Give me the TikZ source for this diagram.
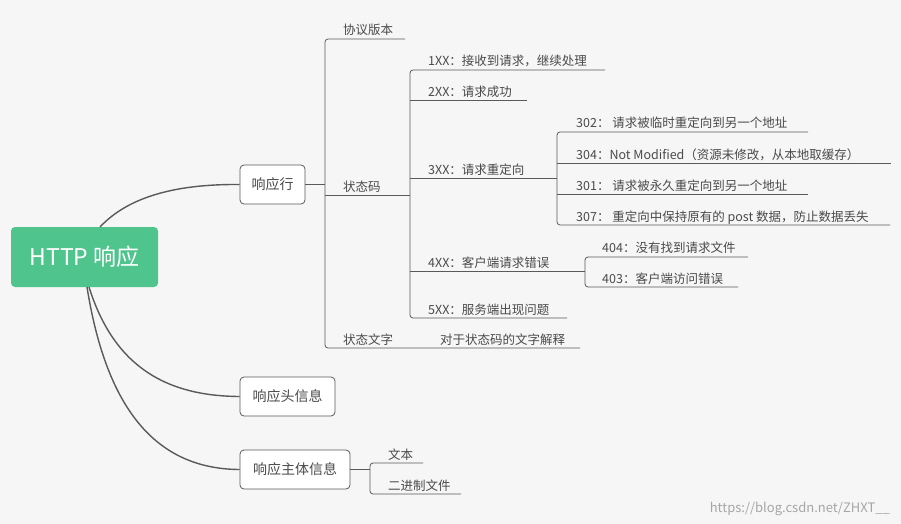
\documentclass[tikz,border=0pt]{standalone}
\usepackage{fontspec}
\setmainfont{Noto Sans CJK SC}
\definecolor{bg}{HTML}{F6F6F6}
\definecolor{grn}{HTML}{4FC48C}
\definecolor{ln}{HTML}{5A5A5A}
\definecolor{tx}{HTML}{4A4A4A}
\begin{document}
\begin{tikzpicture}[x=1pt,y=-1pt,
  lbl/.style={anchor=base west,inner sep=0pt,text=tx,font=\fontsize{12.5}{14}\selectfont},
  box/.style={draw=ln,line width=0.8pt,rounded corners=4pt,fill=white,text=tx,font=\fontsize{14}{16}\selectfont,inner sep=0pt,minimum height=39pt},
  br/.style={draw=ln,line width=0.8pt},
  cv/.style={draw=ln,line width=1.4pt}]
\fill[bg] (0,0) rectangle (901,524);
\useasboundingbox (0,0) rectangle (901,524);
% root
\node[fill=grn,rounded corners=4pt,minimum width=147pt,minimum height=60pt,inner sep=0pt,text=white,font=\fontsize{23}{26}\selectfont] (root) at (84.5,257) {HTTP 响应};
\node[box,minimum width=65pt] (line) at (272.5,184.5) {响应行};
\node[box,minimum width=95pt] (head) at (287.5,396.5) {响应头信息};
\node[box,minimum width=110pt] (body) at (295,469.5) {响应主体信息};
\draw[cv] (100,227) .. controls (130,195) and (180,184) .. (line.west);
\draw[cv] (89,287) .. controls (115,370) and (170,396) .. (head.west);
\draw[cv] (87,287) .. controls (105,400) and (150,469) .. (body.west);
% level 2 of 响应行
\draw[br] (line.east) -- (325,184.5);
\draw[br,rounded corners=3pt] (405,39) -- (325,39) -- (325,348) -- (580,348);
\draw[br] (325,195) -- (410,195);
\node[lbl] (xy) at (343,35) {协议版本};
\node[lbl] (ztm) at (343,191) {状态码};
\node[lbl] (ztwz) at (343,344) {状态文字};
\node[lbl] (jx) at (440,344) {对于状态码的文字解释};
% status code children
\draw[br,rounded corners=3pt] (605,70) -- (410,70) -- (410,318) -- (567,318);
\draw[br] (410,100) -- (527,100);
\draw[br] (410,178) -- (557,178);
\draw[br] (410,271) -- (585,271);
\node[lbl] (c1) at (428,66) {1XX：接收到请求，继续处理};
\node[lbl] (c2) at (428,97) {2XX：请求成功};
\node[lbl] (c3) at (428,174) {3XX：请求重定向};
\node[lbl] (c4) at (428,267) {4XX：客户端请求错误};
\node[lbl] (c5) at (428,314) {5XX：服务端出现问题};
% 3XX children
\draw[br,rounded corners=3pt] (808,132) -- (557,132) -- (557,225) -- (890,225);
\draw[br] (557,163) -- (891,163);
\draw[br] (557,194) -- (808,194);
\node[lbl] (r1) at (576,128) {302：\ 请求被临时重定向到另一个地址};
\node[lbl] (r2) at (576,159) {304：Not Modified（资源未修改，从本地取缓存）};
\node[lbl] (r3) at (576,190) {301：\ 请求被永久重定向到另一个地址};
\node[lbl] (r4) at (576,221) {307：\ 重定向中保持原有的 post 数据，防止数据丢失};
% 4XX children
\draw[br,rounded corners=3pt] (748,257) -- (585,257) -- (585,287) -- (738,287);
\node[lbl] (e1) at (602,252) {404：没有找到请求文件};
\node[lbl] (e2) at (602,283) {403：客户端访问错误};
% body children
\draw[br] (body.east) -- (370,469.5);
\draw[br,rounded corners=3pt] (423,463) -- (370,463) -- (370,494) -- (461,494);
\node[lbl] (t1) at (388,459) {文本};
\node[lbl] (t2) at (388,490) {二进制文件};
\node[anchor=base east,inner sep=0pt,text=gray!70,font=\fontsize{13}{15}\selectfont] (wm) at (890,512) {https://blog.csdn.net/ZHXT\_\_};
\end{tikzpicture}
\end{document}
